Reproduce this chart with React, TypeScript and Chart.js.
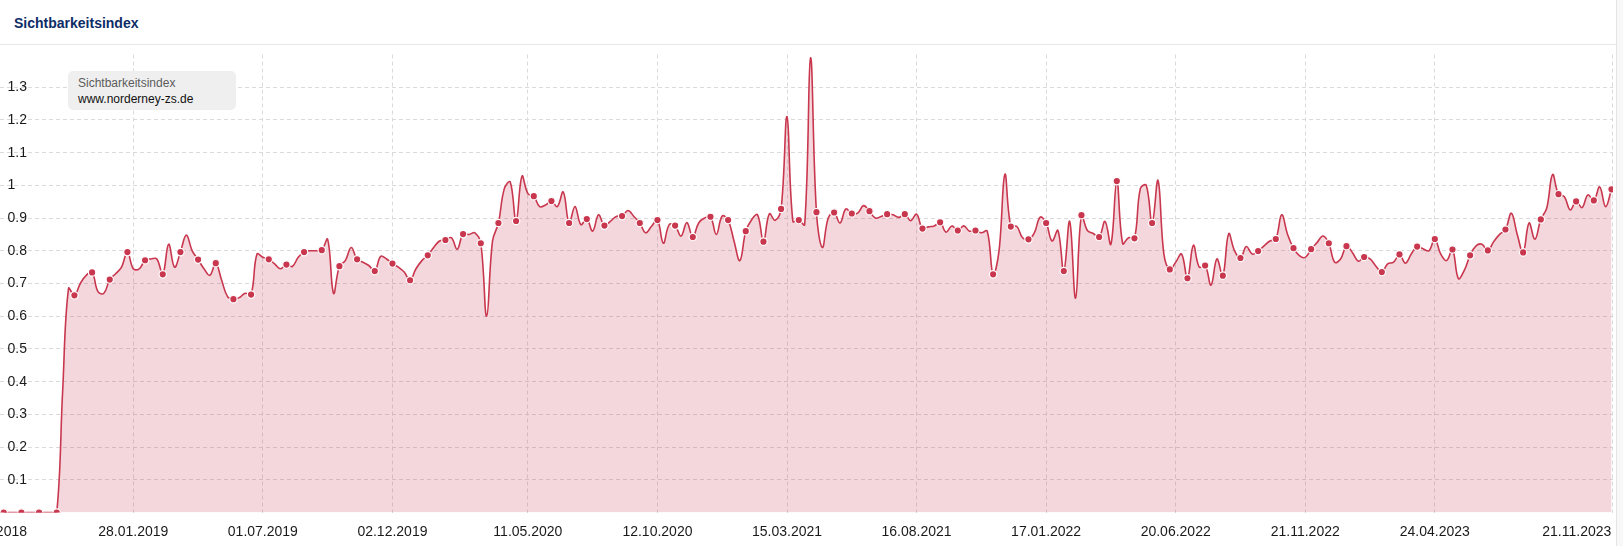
import React, { useEffect, useRef } from "react";
import { Chart, registerables } from "chart.js";

Chart.register(...registerables);

// ---- DATA ----
const seriesStart = "27.08.2018"; // first weekly value
const weekStepDays = 7;
const dotEveryNthWeek = 3;

const values2018 = [0, 0, 0, 0, 0, 0, 0, 0, 0, 0, 0.37, 0.685, 0.664, 0.7, 0.725, 0.734, 0.675, 0.67, 0.712];
const values2019 = [
  0.73, 0.75, 0.796, 0.745, 0.745, 0.771, 0.775, 0.775, 0.728, 0.82, 0.75, 0.796, 0.848, 0.8, 0.773, 0.745, 0.725,
  0.762, 0.71, 0.66, 0.652, 0.657, 0.67, 0.666, 0.79, 0.78, 0.774, 0.76, 0.745, 0.758, 0.752, 0.78, 0.796, 0.8, 0.8,
  0.802, 0.835, 0.67, 0.753, 0.77, 0.81, 0.774, 0.765, 0.755, 0.738, 0.783, 0.775, 0.761, 0.75, 0.735, 0.71, 0.745,
];
const values2020 = [
  0.77, 0.786, 0.81, 0.83, 0.833, 0.84, 0.805, 0.851, 0.85, 0.855, 0.823, 0.6, 0.83, 0.885, 0.99, 1.01, 0.891, 1.028,
  0.975, 0.967, 0.935, 0.94, 0.952, 0.935, 0.98, 0.885, 0.935, 0.88, 0.897, 0.86, 0.91, 0.877, 0.89, 0.905, 0.906,
  0.923, 0.905, 0.885, 0.855, 0.875, 0.894, 0.823, 0.88, 0.877, 0.845, 0.886, 0.842, 0.885, 0.9, 0.904, 0.85, 0.906,
];
const values2021 = [
  0.894, 0.83, 0.77, 0.86, 0.895, 0.91, 0.828, 0.913, 0.893, 0.928, 1.21, 0.89, 0.894, 0.88, 1.39, 0.918, 0.81, 0.9,
  0.917, 0.885, 0.928, 0.914, 0.915, 0.938, 0.921, 0.9, 0.905, 0.912, 0.91, 0.902, 0.912, 0.892, 0.912, 0.868, 0.873,
  0.876, 0.887, 0.857, 0.876, 0.862, 0.876, 0.86, 0.862, 0.855, 0.86, 0.728, 0.8, 1.034, 0.874, 0.875, 0.84, 0.835,
];
const values2022 = [
  0.855, 0.903, 0.885, 0.83, 0.862, 0.738, 0.89, 0.655, 0.909, 0.862, 0.853, 0.842, 0.89, 0.82, 1.013, 0.822, 0.84,
  0.838, 0.99, 1.0, 0.885, 1.015, 0.79, 0.743, 0.765, 0.79, 0.716, 0.817, 0.75, 0.755, 0.695, 0.775, 0.724, 0.852,
  0.8, 0.778, 0.813, 0.79, 0.799, 0.815, 0.83, 0.836, 0.91, 0.85, 0.808, 0.785, 0.78, 0.805, 0.825, 0.845, 0.823, 0.765,
];
const values2023 = [
  0.775, 0.814, 0.795, 0.768, 0.781, 0.775, 0.753, 0.735, 0.76, 0.765, 0.789, 0.762, 0.79, 0.813, 0.806, 0.8, 0.836,
  0.79, 0.77, 0.804, 0.715, 0.74, 0.786, 0.815, 0.82, 0.801, 0.828, 0.85, 0.865, 0.915, 0.85, 0.795, 0.885, 0.835,
  0.896, 0.93, 1.033, 0.973, 0.965, 0.925, 0.951, 0.932, 0.971, 0.954, 0.995, 0.935, 0.988,
];

const xTickLabels = [
  "13.08.2018", "28.01.2019", "01.07.2019", "02.12.2019", "11.05.2020", "12.10.2020", "15.03.2021",
  "16.08.2021", "17.01.2022", "20.06.2022", "21.11.2022", "24.04.2023", "21.11.2023",
];
const yMin = 0;
const yMax = 1.4;
const yStep = 0.1;

const chartTitle = "Sichtbarkeitsindex";
const legendTitle = "Sichtbarkeitsindex";
const legendDomain = "www.norderney-zs.de";

// ---- STYLE ----
const LINE = "#c8374e";
const FILL = "rgba(200,55,78,0.2)";
const GRID = "#dadada";
const TEXT = "#1a1a1a";
const FONT = '"Liberation Sans", Arial, sans-serif';

function parseDay(label: string): number {
  const [d, m, y] = label.split(".").map(Number);
  return Date.UTC(y, m - 1, d) / 86400000;
}

const startDay = parseDay(seriesStart);
const allValues = [...values2018, ...values2019, ...values2020, ...values2021, ...values2022, ...values2023];
const points = allValues.map((v, i) => ({ x: i * weekStepDays, y: v }));
const tickDays = xTickLabels.map((l) => parseDay(l) - startDay);
const X_MIN = -4.45;
const X_MAX = 1912.8;

const xLabelPlugin = {
  id: "xLabels",
  afterDraw(chart: any) {
    const { ctx, chartArea } = chart;
    const sx = chart.scales.x;
    ctx.save();
    ctx.font = `14px ${FONT}`;
    ctx.fillStyle = TEXT;
    ctx.textBaseline = "middle";
    xTickLabels.forEach((label, i) => {
      const x = sx.getPixelForValue(tickDays[i]);
      const w = ctx.measureText(label).width;
      if (x + w / 2 > chart.width - 4) {
        ctx.textAlign = "right";
        ctx.fillText(label, x - 1, chartArea.bottom + 20);
      } else {
        ctx.textAlign = "center";
        ctx.fillText(label, x, chartArea.bottom + 20);
      }
    });
    ctx.restore();
  },
};

export default function App() {
  const ref = useRef<HTMLCanvasElement | null>(null);

  useEffect(() => {
    if (!ref.current) return;
    const chart = new Chart(ref.current, {
      type: "line",
      data: {
        datasets: [
          {
            data: points,
            borderColor: LINE,
            backgroundColor: FILL,
            fill: "origin",
            tension: 0.4,
            borderWidth: 1.6,
            pointRadius: (ctx: any) => (ctx.dataIndex % dotEveryNthWeek === 0 ? 3.7 : 0),
            pointHoverRadius: 0,
            pointBackgroundColor: LINE,
            pointBorderColor: "#ffffff",
            pointBorderWidth: 1.2,
          },
        ],
      },
      options: {
        animation: false,
        responsive: false,
        maintainAspectRatio: false,
        events: [],
        layout: { autoPadding: false, padding: { left: 0, right: 10, top: 54.5, bottom: 33.5 } },
        plugins: { legend: { display: false }, tooltip: { enabled: false } },
        scales: {
          x: {
            type: "linear",
            min: X_MIN,
            max: X_MAX,
            afterBuildTicks: (scale: any) => {
              scale.ticks = tickDays.filter((d) => d >= X_MIN && d <= X_MAX).map((d) => ({ value: d }));
            },
            afterFit: (scale: any) => {
              scale.height = 0;
              scale.paddingLeft = 0;
              scale.paddingRight = 0;
            },
            ticks: { display: false },
            grid: { color: GRID, lineWidth: 1, drawTicks: false },
            border: { display: false, dash: [4, 3] },
          },
          y: {
            min: yMin,
            max: yMax,
            afterFit: (scale: any) => {
              scale.width = 0;
            },
            ticks: {
              stepSize: yStep,
              mirror: true,
              padding: 7.5,
              color: TEXT,
              font: { family: FONT, size: 14 },
              callback: (v: any) => {
                const n = Number(v);
                if (n <= 0.001 || n > yMax - 0.05) return "";
                return String(Number(n.toFixed(1)));
              },
            },
            grid: {
              drawTicks: false,
              lineWidth: 1,
              color: (ctx: any) => {
                const v = ctx.tick ? ctx.tick.value : 0;
                return v <= 0.001 || v > yMax - 0.05 ? "rgba(0,0,0,0)" : GRID;
              },
            },
            border: { display: false, dash: [4, 3] },
          },
        },
      },
      plugins: [xLabelPlugin],
    } as any);
    return () => chart.destroy();
  }, []);

  return (
    <div
      style={{
        position: "absolute",
        left: 0,
        top: 0,
        width: 1623,
        height: 546,
        overflow: "hidden",
        background: "#f8f8f8",
        fontFamily: FONT,
      }}
    >
      <div
        style={{
          position: "absolute",
          left: -10,
          top: -10,
          width: 1625,
          height: 580,
          background: "#ffffff",
          border: "1px solid #e4e4e4",
          borderRadius: 6,
        }}
      />
      <div style={{ position: "absolute", left: 0, top: 44, width: 1616, height: 1, background: "#e8e8e8" }} />
      <div
        style={{
          position: "absolute",
          left: 14,
          top: 15.4,
          fontSize: 14,
          lineHeight: "16px",
          fontWeight: 700,
          color: "#0d2c66",
          whiteSpace: "nowrap",
        }}
      >
        {chartTitle}
      </div>
      <canvas ref={ref} width={1623} height={546} style={{ position: "absolute", left: 0, top: 0, width: 1623, height: 546 }} />
      <div
        style={{
          position: "absolute",
          left: 68,
          top: 71,
          width: 168,
          height: 39,
          boxSizing: "border-box",
          padding: "4px 10px 0 10px",
          background: "#efefef",
          borderRadius: 5,
          fontSize: 12,
          lineHeight: "16px",
          whiteSpace: "nowrap",
        }}
      >
        <div style={{ color: "#5c5c5c" }}>{legendTitle}</div>
        <div style={{ color: "#111111" }}>{legendDomain}</div>
      </div>
    </div>
  );
}
